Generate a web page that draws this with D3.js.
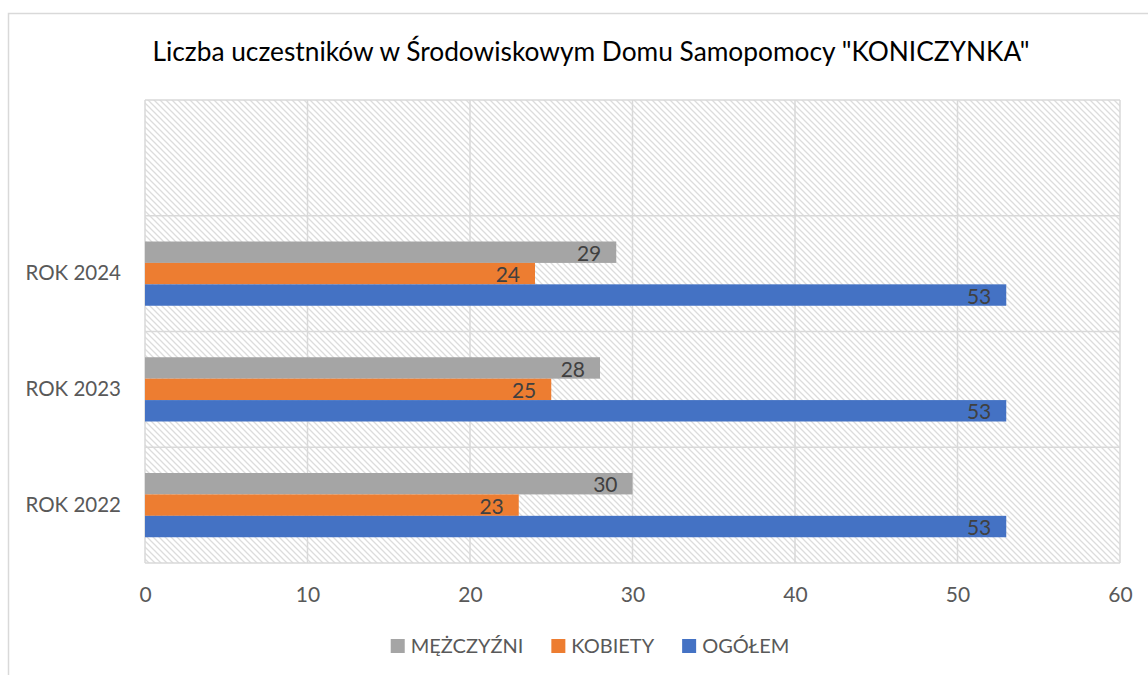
<!DOCTYPE html>
<html>
<head>
<meta charset="utf-8">
<script src="https://cdn.jsdelivr.net/npm/d3@7"></script>
<style>
  body { margin: 0; background: #fff; }
  text { font-family: Lato, "Open Sans", sans-serif; }
</style>
</head>
<body>
<div id="chart"></div>
<script>
const categories = ["ROK 2022", "ROK 2023", "ROK 2024", ""];
const seriesNames = ["MĘŻCZYŹNI", "KOBIETY", "OGÓŁEM"];
const menValues = [30, 28, 29];
const womenValues = [23, 25, 24];
const totalValues = [53, 53, 53];
const xTicks = [0, 10, 20, 30, 40, 50, 60];
const title = 'Liczba uczestników w Środowiskowym Domu Samopomocy "KONICZYNKA"';

const colors = { "MĘŻCZYŹNI": "#a5a5a5", "KOBIETY": "#ed7d31", "OGÓŁEM": "#4472c4" };

const rows = categories.slice(0, 3).map((c, i) => ({
  cat: c,
  values: [
    { key: seriesNames[0], value: menValues[i] },
    { key: seriesNames[1], value: womenValues[i] },
    { key: seriesNames[2], value: totalValues[i] }
  ]
}));

const svg = d3.select("#chart").append("svg")
  .attr("width", 1148)
  .attr("height", 675);

svg.append("rect").attr("width", 1148).attr("height", 675).attr("fill", "#fff");

// chart frame
svg.append("rect")
  .attr("x", 8.5).attr("y", 13.5)
  .attr("width", 1200).attr("height", 700)
  .attr("fill", "none")
  .attr("stroke", "#d9d9d9")
  .attr("stroke-width", 1.5);

const defs = svg.append("defs");
const pat = defs.append("pattern")
  .attr("id", "hatch")
  .attr("patternUnits", "userSpaceOnUse")
  .attr("width", 6).attr("height", 6);
pat.append("path")
  .attr("d", "M-1,-1 L7,7 M-1,5 L1,7 M5,-1 L7,1")
  .attr("stroke", "#dcdcdc")
  .attr("stroke-width", 1.3);

const x = d3.scaleLinear().domain([0, 60]).range([145, 1120]);
const y = d3.scaleBand().domain(categories.slice().reverse()).range([100, 563]);

// plot background
svg.append("rect")
  .attr("x", x(0)).attr("y", 100)
  .attr("width", x(60) - x(0)).attr("height", 463)
  .attr("fill", "url(#hatch)");

// gridlines
svg.append("g").selectAll("line")
  .data(xTicks)
  .enter().append("line")
  .attr("x1", d => x(d)).attr("x2", d => x(d))
  .attr("y1", 100).attr("y2", 563)
  .attr("stroke", "#d9d9d9").attr("stroke-width", 1.5);

const bounds = y.domain().map(d => y(d)).concat([y.range()[1]]);
svg.append("g").selectAll("line")
  .data(bounds)
  .enter().append("line")
  .attr("x1", x(0)).attr("x2", x(60))
  .attr("y1", d => d).attr("y2", d => d)
  .attr("stroke", "#d9d9d9").attr("stroke-width", 1.5);

// bars
const bw = y.bandwidth();
const gw = bw * 0.555;
const inner = d3.scaleBand().domain(seriesNames).range([(bw - gw) / 2, (bw + gw) / 2]);

const groups = svg.append("g").selectAll("g")
  .data(rows)
  .enter().append("g")
  .attr("transform", d => `translate(0,${y(d.cat)})`);

groups.selectAll("rect")
  .data(d => d.values)
  .enter().append("rect")
  .attr("x", x(0))
  .attr("y", d => inner(d.key))
  .attr("width", d => x(d.value) - x(0))
  .attr("height", inner.bandwidth())
  .attr("fill", d => colors[d.key]);

groups.selectAll("text")
  .data(d => d.values)
  .enter().append("text")
  .attr("x", d => x(d.value) - 15)
  .attr("y", d => inner(d.key) + inner.bandwidth() / 2 + 1)
  .attr("dy", "0.36em")
  .attr("text-anchor", "end")
  .attr("fill", "#404040")
  .style("font-size", "21px")
  .text(d => d.value);

// axes
const xAxis = svg.append("g")
  .attr("transform", "translate(0,563)")
  .call(d3.axisBottom(x).tickValues(xTicks).tickSize(0).tickPadding(24));
xAxis.select(".domain").remove();
xAxis.selectAll("text")
  .attr("fill", "#595959")
  .style("font-size", "21px")
  .style("font-family", "Lato");

const yAxis = svg.append("g")
  .attr("transform", `translate(${x(0)},0)`)
  .call(d3.axisLeft(y).tickSize(0).tickPadding(24));
yAxis.select(".domain").remove();
yAxis.selectAll("text")
  .attr("fill", "#595959")
  .style("font-size", "20.5px")
  .style("font-family", "Lato");

// title
svg.append("text")
  .attr("x", 591).attr("y", 61)
  .attr("text-anchor", "middle")
  .attr("fill", "#000")
  .style("font-size", "26.3px")
  .text(title);

// legend
const legend = svg.append("g");
const items = legend.selectAll("g")
  .data(seriesNames)
  .enter().append("g");
items.append("rect")
  .attr("width", 14).attr("height", 14)
  .attr("y", -7)
  .attr("fill", d => colors[d]);
items.append("text")
  .attr("x", 20)
  .attr("dy", "0.36em")
  .attr("fill", "#595959")
  .style("font-size", "20px")
  .text(d => d);

let cx = 0;
items.each(function() {
  const g = d3.select(this);
  g.attr("transform", `translate(${cx},0)`);
  cx += 20 + g.select("text").node().getComputedTextLength() + 28;
});
const totalW = cx - 28;
legend.attr("transform", `translate(${590 - totalW / 2},646)`);
</script>
</body>
</html>
